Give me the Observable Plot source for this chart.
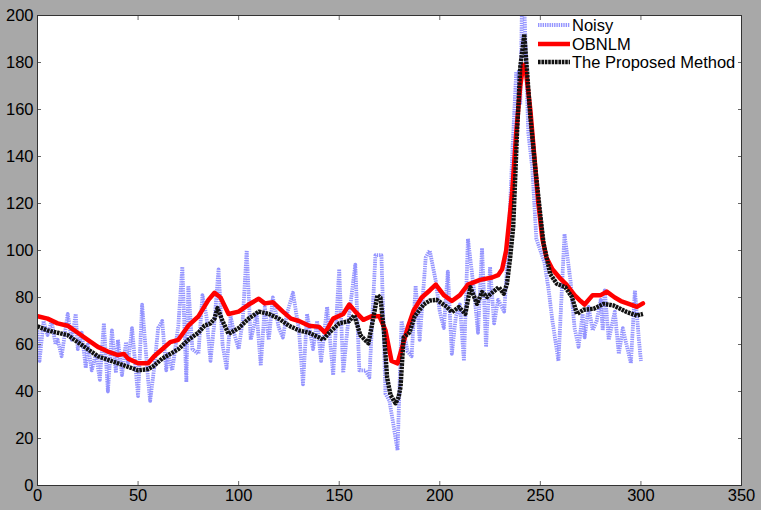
<!DOCTYPE html>
<html>
<head>
<meta charset="utf-8">
<script src="https://cdn.jsdelivr.net/npm/d3@7"></script>
<script src="https://cdn.jsdelivr.net/npm/@observablehq/plot@0.6"></script>
<style>
  html, body { margin: 0; padding: 0; background: #a8a8a8; }
  #wrap { position: relative; width: 761px; height: 510px; font-family: "Liberation Sans", Arial, sans-serif; }
  #legend { position: absolute; left: 537px; top: 16px; font-size: 16.5px; color: #000; line-height: 18.5px; }
  #legend .row { display: flex; align-items: center; white-space: nowrap; }
  #legend svg { margin-right: 1px; }
</style>
</head>
<body>
<div id="wrap"><div id="chart"></div><div id="legend"></div></div>
<script>
// ---- data ----
const seriesNames = ["Noisy", "OBNLM", "The Proposed Method"];

const noisyX = [0,1,3,5,7,9,10,12,15,17,19,20,22,24,25,27,29,31,33,35,37,39,40,42,44,45,47,50,52,55,56,58,60,62,64,65,67,70,72,74,75,77,80,82,84,86,88,90,92,94,96,98,100,102,104,106,109,111,113,115,117,120,122,124,127,130,132,134,137,139,141,144,147,150,152,154,158,160,163,165,168,171,173,175,179,181,184,186,188,190,193,195,198,200,202,204,206,208,210,212,214,217,219,221,223,225,227,229,232,234,236,238,239,240,241,242,244,246,248,250,252,254,256,259,262,265,267,269,271,272,274,276,278,280,281,282,284,287,289,291,292,295,297,299,300];
const noisyY = [66,53,70,64,70,60,62,55,73,62,73,58,65,50,60,49,56,45,69,40,66,48,62,47,61,52,67,38,77,45,36,50,67,70,49,56,49,68,93,44,85,58,56,81,72,53,70,92,60,50,72,64,58,70,100,62,73,51,76,62,80,67,63,73,82,66,43,73,58,70,53,76,47,92,48,66,94,49,49,46,98,98,39,36,15,70,57,55,85,62,97,100,87,74,67,91,56,72,77,53,105,83,65,101,59,93,69,79,74,100,140,176,176,162,210,205,150,135,105,100,95,84,70,53,107,87,67,59,73,63,76,66,70,79,66,83,62,74,56,67,63,52,83,62,53];

const obnlmX = [0,5,10,15,20,25,30,35,40,43,45,50,55,58,62,66,70,75,80,85,88,91,95,100,105,110,113,117,122,126,130,135,140,143,147,152,155,158,162,166,170,173,176,179,181,184,187,191,195,198,202,206,210,214,220,226,229,231,233,236,238,240,241.5,243,245,247,249,251,253,256,260,263,267,270,272,276,280,283,287,290,295,298,301];
const obnlmY = [72,71,69,68,65,62,59,57,55.5,56,54,52,52,55,58,61,62,68,72,79,82,80,73,74,77,79.5,77.5,78,74,71,70,68,67.5,65,71,73,77,74,70.5,72,72,66,53,52,58,67,74.5,80,83,85.5,81,78.5,81,85.5,87.5,88.5,89.5,92,100,125,150,170,179,175,160,140,120,105,97,92,88,85.5,81,78.5,77,81,81,82.5,80,78.5,77,76,77.5];

const proposedX = [0,5,10,15,20,25,30,35,40,45,50,55,58,62,66,70,75,80,83,86,88,89.5,92,95,100,105,110,115,120,125,130,135,140,142,145,150,155,157.5,160.5,164.5,167,169,170.5,172.2,173.8,175.5,178,179.5,180.5,182,185,187.5,192,195,198.5,203.5,206,209.5,212.7,215.2,218.5,221,223.5,229.3,231.8,233.4,235,236.5,238.4,240,242,243.5,245,247.5,250,251.6,254.9,258.2,262.4,265.7,268.2,271.5,276.5,281.4,286.4,293,298,301];
const proposedY = [67.7,66,65,64,61,58,55,53.5,52,50.5,49,49.5,51,54,56,58,62,65,68,69,71,75.5,70,64.5,67,71,74,73,71,68,66,65,63,62,65,69,70,72.5,64,60.5,71.5,81,80,66,46,38.5,35,37.5,42,63,65.2,72,77,78.7,79,76,73.8,75.9,73,84.4,77.3,82.3,80.2,84.4,81.6,85.8,97,110,150,178,192,175,157,135,115,103,90,85.8,84.4,80.2,73,74.8,75.2,77.3,76.6,73.8,72.3,73];

const xTicks = [0,50,100,150,200,250,300,350];
const yTicks = [0,20,40,60,80,100,120,140,160,180,200];

// ---- build tables ----
const noisy = noisyX.map((x, i) => ({x, y: noisyY[i]}));
const obnlm = obnlmX.map((x, i) => ({x, y: obnlmY[i]}));
const proposed = proposedX.map((x, i) => ({x, y: proposedY[i]}));

const styles = {
  Noisy: {stroke: "#4d4dff", strokeOpacity: 0.6, strokeWidth: 3.8, strokeDasharray: "1.4,0.9", strokeLinecap: "butt"},
  OBNLM: {stroke: "#ff0000", strokeWidth: 4.5},
  "The Proposed Method": {stroke: "#111", strokeWidth: 4.4, strokeDasharray: "2.6,0.8", strokeLinecap: "butt"}
};

const tickColor = "#666";
const chart = Plot.plot({
  width: 761,
  height: 510,
  marginLeft: 37,
  marginRight: 20,
  marginTop: 15,
  marginBottom: 25,
  style: {background: "#a8a8a8", fontFamily: "'Liberation Sans', Arial, sans-serif", fontSize: "16px", color: "#000"},
  x: {domain: [0, 350]},
  y: {domain: [0, 200]},
  marks: [
    Plot.frame({fill: "white", stroke: "none"}),
    Plot.line(noisy, {x: "x", y: "y", clip: true, ...styles.Noisy}),
    Plot.line(obnlm, {x: "x", y: "y", clip: true, ...styles.OBNLM}),
    Plot.line(proposed, {x: "x", y: "y", clip: true, ...styles["The Proposed Method"]}),
    Plot.axisY(yTicks, {anchor: "left", tickSize: 0, tickPadding: 4, label: null, fontSize: 16.5}),
    Plot.axisY(yTicks, {anchor: "left", tickSize: 4, dx: 4, fill: "none", stroke: tickColor, label: null}),
    Plot.axisY(yTicks, {anchor: "right", tickSize: 4, dx: -4, fill: "none", stroke: tickColor, label: null}),
    Plot.axisX(xTicks, {anchor: "bottom", tickSize: 0, tickPadding: 4, label: null, fontSize: 16.5}),
    Plot.axisX(xTicks, {anchor: "bottom", tickSize: 4, dy: -4, fill: "none", stroke: tickColor, label: null}),
    Plot.axisX(xTicks, {anchor: "top", tickSize: 4, dy: 4, fill: "none", stroke: tickColor, label: null}),
    Plot.frame({stroke: "#333", strokeWidth: 1})
  ]
});
document.getElementById("chart").appendChild(chart);

// ---- legend ----
const legend = document.getElementById("legend");
for (const name of seriesNames) {
  const s = styles[name];
  const row = document.createElement("div");
  row.className = "row";
  row.innerHTML = `<svg width="34" height="18"><line x1="1" x2="33" y1="9" y2="9" stroke="${s.stroke}" stroke-width="${s.strokeWidth}" stroke-opacity="${s.strokeOpacity ?? 1}" stroke-dasharray="${s.strokeDasharray ?? "none"}" stroke-linecap="butt"/></svg><span>${name}</span>`;
  legend.appendChild(row);
}
</script>
</body>
</html>
